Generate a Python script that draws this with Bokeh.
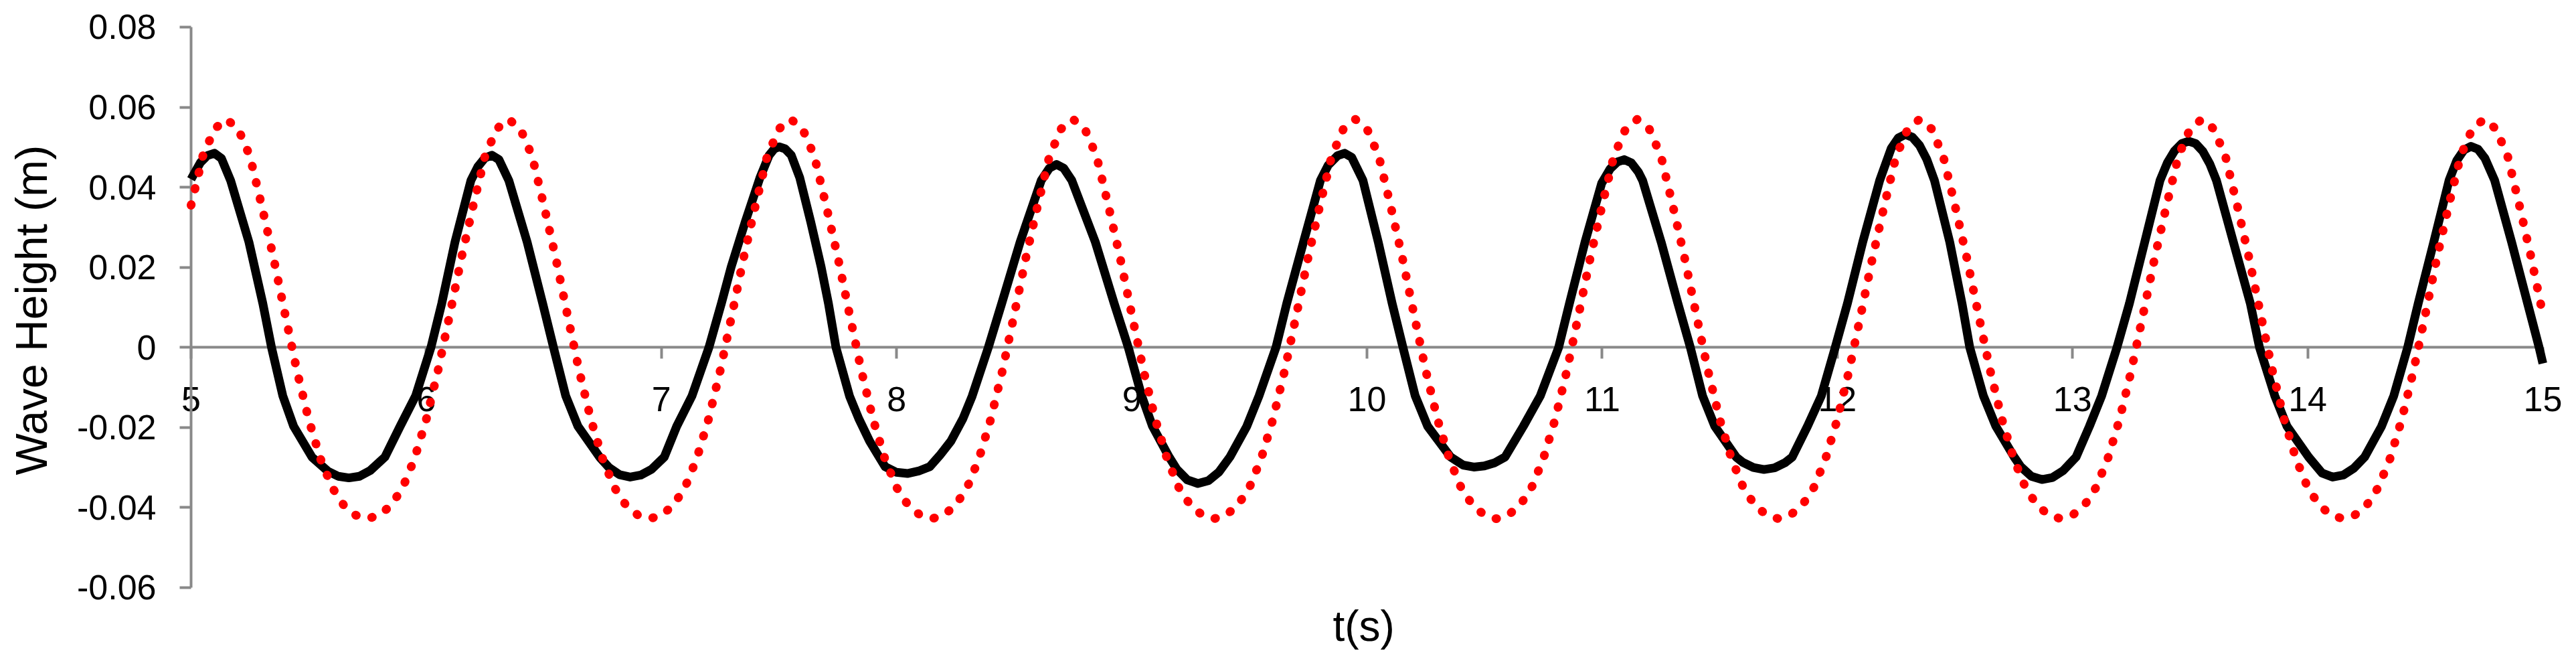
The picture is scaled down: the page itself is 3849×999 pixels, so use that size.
from bokeh.plotting import figure
from bokeh.models import Range1d, FixedTicker, Title
from bokeh.embed import file_html
from bokeh.resources import INLINE

# ---------------- data ----------------
x_ticks = [5, 6, 7, 8, 9, 10, 11, 12, 13, 14, 15]
x_tick_labels = ["5", "6", "7", "8", "9", "10", "11", "12", "13", "14", "15"]
y_ticks = [-0.06, -0.04, -0.02, 0, 0.02, 0.04, 0.06, 0.08]
y_tick_labels = ["-0.06", "-0.04", "-0.02", "0", "0.02", "0.04", "0.06", "0.08"]
x_title = "t(s)"
y_title = "Wave Height (m)"

# measured wave (black solid line)
black_t = [
    5.000, 5.040, 5.069, 5.099, 5.129, 5.168, 5.246, 5.305, 5.342, 5.390, 5.436, 5.514,
    5.581, 5.626, 5.671, 5.716, 5.761, 5.824, 5.889, 5.955, 6.020, 6.066, 6.122, 6.190,
    6.219, 6.249, 6.279, 6.309, 6.351, 6.429, 6.495, 6.541, 6.593, 6.645, 6.737,
    6.777, 6.822, 6.867, 6.912, 6.957, 7.012, 7.065, 7.130, 7.202, 7.255, 7.2965, 7.356,
    7.419, 7.458, 7.480, 7.5005, 7.526, 7.552, 7.588, 7.635, 7.679, 7.710, 7.742, 7.800,
    7.839, 7.885, 7.922, 7.951, 7.999, 8.046, 8.093, 8.141, 8.183, 8.231, 8.282, 8.321,
    8.390, 8.447, 8.525, 8.615, 8.650, 8.680, 8.710, 8.745, 8.845, 8.925, 8.985, 9.042,
    9.088, 9.159, 9.191, 9.236, 9.281, 9.326, 9.371, 9.417, 9.489, 9.541, 9.613, 9.659,
    9.730, 9.802, 9.835, 9.875, 9.905, 9.935, 9.983, 10.048, 10.107, 10.153, 10.205, 10.258,
    10.356, 10.409, 10.454, 10.499, 10.544, 10.587, 10.665, 10.737, 10.815, 10.861, 10.927, 10.998,
    11.034, 11.064, 11.094, 11.124, 11.154, 11.172, 11.251, 11.322, 11.375, 11.427, 11.479, 11.570,
    11.598, 11.643, 11.688, 11.733, 11.778, 11.808, 11.873, 11.932, 11.991, 12.043, 12.108, 12.180,
    12.229, 12.259, 12.289, 12.319, 12.349, 12.380, 12.413, 12.478, 12.530, 12.563, 12.621, 12.674,
    12.752, 12.780, 12.825, 12.870, 12.915, 12.960, 13.015, 13.072, 13.124, 13.189, 13.242, 13.307,
    13.372, 13.404, 13.434, 13.464, 13.494, 13.524, 13.554, 13.584, 13.612, 13.684, 13.756, 13.795,
    13.860, 13.912, 14.004, 14.061, 14.106, 14.151, 14.196, 14.242, 14.314, 14.366, 14.425, 14.470,
    14.536, 14.601, 14.634, 14.664, 14.694, 14.724, 14.754, 14.795, 14.867, 14.935, 14.984, 15.000,
]
black_v = [
    0.0420, 0.0462, 0.0479, 0.0485, 0.0472, 0.0417, 0.0263, 0.0110, 0.0000, -0.0121, -0.0197, -0.0274,
    -0.0309, -0.0322, -0.0326, -0.0322, -0.0308, -0.0274, -0.0197, -0.0121, 0.0000, 0.0110, 0.0263, 0.0417,
    0.0451, 0.0473, 0.0480, 0.0469, 0.0417, 0.0263, 0.0110, 0.0000, -0.0121, -0.0197, -0.0274,
    -0.0300, -0.0318, -0.0324, -0.0319, -0.0305, -0.0274, -0.0197, -0.0121, 0.0000, 0.0110, 0.0201, 0.0313,
    0.0424, 0.0480, 0.0496, 0.0501, 0.0496, 0.0480, 0.0424, 0.0313, 0.0201, 0.0110, 0.0000, -0.0122,
    -0.0178, -0.0234, -0.0270, -0.0298, -0.0312, -0.0315, -0.0309, -0.0298, -0.0270, -0.0234, -0.0178, -0.0122,
    0.0000, 0.0110, 0.0263, 0.0417, 0.0448, 0.0457, 0.0448, 0.0417, 0.0263, 0.0110, 0.0000, -0.0121,
    -0.0197, -0.0274, -0.0304, -0.0331, -0.0340, -0.0333, -0.0311, -0.0274, -0.0197, -0.0121, 0.0000, 0.0110,
    0.0263, 0.0417, 0.0455, 0.0479, 0.0485, 0.0475, 0.0417, 0.0263, 0.0110, 0.0000, -0.0121, -0.0197,
    -0.0274, -0.0294, -0.0299, -0.0296, -0.0288, -0.0274, -0.0197, -0.0121, 0.0000, 0.0110, 0.0263, 0.0410,
    0.0446, 0.0463, 0.0469, 0.0461, 0.0438, 0.0417, 0.0263, 0.0110, 0.0000, -0.0121, -0.0197, -0.0274,
    -0.0287, -0.0300, -0.0305, -0.0301, -0.0288, -0.0274, -0.0197, -0.0121, 0.0000, 0.0110, 0.0263, 0.0417,
    0.0497, 0.0523, 0.0532, 0.0525, 0.0505, 0.0470, 0.0417, 0.0263, 0.0110, 0.0000, -0.0121, -0.0197,
    -0.0274, -0.0298, -0.0322, -0.0330, -0.0325, -0.0308, -0.0274, -0.0197, -0.0121, 0.0000, 0.0110, 0.0263,
    0.0417, 0.0462, 0.0491, 0.0509, 0.0515, 0.0509, 0.0490, 0.0458, 0.0417, 0.0263, 0.0110, 0.0000,
    -0.0121, -0.0197, -0.0274, -0.0314, -0.0324, -0.0319, -0.0302, -0.0274, -0.0197, -0.0121, 0.0000, 0.0110,
    0.0263, 0.0417, 0.0467, 0.0493, 0.0502, 0.0495, 0.0472, 0.0417, 0.0263, 0.0110, 0.0000, -0.0040,
]

# theoretical wave (red dotted line), sampled every 0.05 s
red_t = [
    5.00, 5.05, 5.10,
    5.15, 5.20, 5.25, 5.30, 5.35, 5.40, 5.45, 5.50, 5.55, 5.60, 5.65, 5.70,
    5.75, 5.80, 5.85, 5.90, 5.95, 6.00, 6.05, 6.10, 6.15, 6.20, 6.25, 6.30,
    6.35, 6.40, 6.45, 6.50, 6.55, 6.60, 6.65, 6.70, 6.75, 6.80, 6.85, 6.90,
    6.95, 7.00, 7.05, 7.10, 7.15, 7.20, 7.25, 7.30, 7.35, 7.40, 7.45, 7.50,
    7.55, 7.60, 7.65, 7.70, 7.75, 7.80, 7.85, 7.90, 7.95, 8.00, 8.05, 8.10,
    8.15, 8.20, 8.25, 8.30, 8.35, 8.40, 8.45, 8.50, 8.55, 8.60, 8.65, 8.70,
    8.75, 8.80, 8.85, 8.90, 8.95, 9.00, 9.05, 9.10, 9.15, 9.20, 9.25, 9.30,
    9.35, 9.40, 9.45, 9.50, 9.55, 9.60, 9.65, 9.70, 9.75, 9.80, 9.85, 9.90,
    9.95, 10.00, 10.05, 10.10, 10.15, 10.20, 10.25, 10.30, 10.35, 10.40, 10.45, 10.50,
    10.55, 10.60, 10.65, 10.70, 10.75, 10.80, 10.85, 10.90, 10.95, 11.00, 11.05, 11.10,
    11.15, 11.20, 11.25, 11.30, 11.35, 11.40, 11.45, 11.50, 11.55, 11.60, 11.65, 11.70,
    11.75, 11.80, 11.85, 11.90, 11.95, 12.00, 12.05, 12.10, 12.15, 12.20, 12.25, 12.30,
    12.35, 12.40, 12.45, 12.50, 12.55, 12.60, 12.65, 12.70, 12.75, 12.80, 12.85, 12.90,
    12.95, 13.00, 13.05, 13.10, 13.15, 13.20, 13.25, 13.30, 13.35, 13.40, 13.45, 13.50,
    13.55, 13.60, 13.65, 13.70, 13.75, 13.80, 13.85, 13.90, 13.95, 14.00, 14.05, 14.10,
    14.15, 14.20, 14.25, 14.30, 14.35, 14.40, 14.45, 14.50, 14.55, 14.60, 14.65, 14.70,
    14.75, 14.80, 14.85, 14.90, 14.95, 15.00,
]
red_v = [
    0.0355, 0.0478, 0.0546,
    0.0570, 0.0546, 0.0478, 0.0355, 0.0225, 0.0082, -0.0058, -0.0180, -0.0278, -0.0350, -0.0395, -0.0419,
    -0.0428, -0.0419, -0.0395, -0.0350, -0.0278, -0.0180, -0.0058, 0.0082, 0.0225, 0.0355, 0.0478, 0.0546,
    0.0570, 0.0546, 0.0478, 0.0355, 0.0225, 0.0082, -0.0058, -0.0180, -0.0278, -0.0350, -0.0395, -0.0419,
    -0.0428, -0.0419, -0.0395, -0.0350, -0.0278, -0.0180, -0.0058, 0.0082, 0.0225, 0.0355, 0.0478, 0.0546,
    0.0570, 0.0546, 0.0478, 0.0355, 0.0225, 0.0082, -0.0058, -0.0180, -0.0278, -0.0350, -0.0395, -0.0419,
    -0.0428, -0.0419, -0.0395, -0.0350, -0.0278, -0.0180, -0.0058, 0.0082, 0.0225, 0.0355, 0.0478, 0.0546,
    0.0570, 0.0546, 0.0478, 0.0355, 0.0225, 0.0082, -0.0058, -0.0180, -0.0278, -0.0350, -0.0395, -0.0419,
    -0.0428, -0.0419, -0.0395, -0.0350, -0.0278, -0.0180, -0.0058, 0.0082, 0.0225, 0.0355, 0.0478, 0.0546,
    0.0570, 0.0546, 0.0478, 0.0355, 0.0225, 0.0082, -0.0058, -0.0180, -0.0278, -0.0350, -0.0395, -0.0419,
    -0.0428, -0.0419, -0.0395, -0.0350, -0.0278, -0.0180, -0.0058, 0.0082, 0.0225, 0.0355, 0.0478, 0.0546,
    0.0570, 0.0546, 0.0478, 0.0355, 0.0225, 0.0082, -0.0058, -0.0180, -0.0278, -0.0350, -0.0395, -0.0419,
    -0.0428, -0.0419, -0.0395, -0.0350, -0.0278, -0.0180, -0.0058, 0.0082, 0.0225, 0.0355, 0.0478, 0.0546,
    0.0570, 0.0546, 0.0478, 0.0355, 0.0225, 0.0082, -0.0058, -0.0180, -0.0278, -0.0350, -0.0395, -0.0419,
    -0.0428, -0.0419, -0.0395, -0.0350, -0.0278, -0.0180, -0.0058, 0.0082, 0.0225, 0.0355, 0.0478, 0.0546,
    0.0570, 0.0546, 0.0478, 0.0355, 0.0225, 0.0082, -0.0058, -0.0180, -0.0278, -0.0350, -0.0395, -0.0419,
    -0.0428, -0.0419, -0.0395, -0.0350, -0.0278, -0.0180, -0.0058, 0.0082, 0.0225, 0.0355, 0.0478, 0.0546,
    0.0570, 0.0546, 0.0478, 0.0355, 0.0225, 0.0082,
]

# ---------------- figure ----------------
FONT = "Liberation Sans"
AXIS_GRAY = "#898989"

# the frame spans (almost) the whole figure so that the crossing axes and their
# labels are not clipped; the visible axis lines are limited with `bounds`
p = figure(
    width=3830, height=975,
    x_range=Range1d(4.4280, 15.0882), y_range=Range1d(-0.063526, 0.086691),
    output_backend="svg", toolbar_location=None,
    min_border_left=84, min_border_right=0, min_border_top=0, min_border_bottom=77,
)
p.outline_line_color = None
p.grid.visible = False
p.background_fill_color = "white"
p.border_fill_color = "white"

# y axis at t = 5
yax = p.yaxis[0]
yax.fixed_location = x_ticks[0]
yax.bounds = (y_ticks[0], y_ticks[-1])
yax.ticker = FixedTicker(ticks=y_ticks)
yax.major_label_overrides = dict(zip(y_ticks, y_tick_labels))
yax.axis_line_color = AXIS_GRAY
yax.axis_line_width = 4
yax.major_tick_line_color = AXIS_GRAY
yax.major_tick_line_width = 4
yax.major_tick_out = 17
yax.major_tick_in = 0
yax.minor_tick_line_color = None
yax.major_label_text_font = FONT
yax.major_label_text_font_size = "52px"
yax.major_label_text_color = "black"
yax.major_label_standoff = 35

# x axis crossing at y = 0
xax = p.xaxis[0]
xax.fixed_location = 0
xax.bounds = (x_ticks[0], x_ticks[-1])
xax.ticker = FixedTicker(ticks=x_ticks)
xax.major_label_overrides = dict(zip(x_ticks, x_tick_labels))
xax.axis_line_color = AXIS_GRAY
xax.axis_line_width = 4
xax.major_tick_line_color = AXIS_GRAY
xax.major_tick_line_width = 4
xax.major_tick_out = 17
xax.major_tick_in = 0
xax.minor_tick_line_color = None
xax.major_label_text_font = FONT
xax.major_label_text_font_size = "52px"
xax.major_label_text_color = "black"
xax.major_label_standoff = 42

# axis titles
p.add_layout(Title(text=y_title, align="left", offset=189, vertical_align="middle", standoff=0,
                   text_font=FONT, text_font_size="66px", text_font_style="normal",
                   text_color="black"), "left")
p.add_layout(Title(text=x_title, align="left", offset=1907, vertical_align="top", standoff=0,
                   text_font=FONT, text_font_size="64px", text_font_style="normal",
                   text_color="black"), "below")

# series
p.line(black_t, black_v, line_color="black", line_width=13, line_join="round", level="overlay")
p.line(red_t, red_v, line_color="#ff0000", line_width=13, line_dash="1 24", line_cap="round",
       line_join="round", level="overlay")

open("out.html", "w").write(file_html(p, INLINE))
